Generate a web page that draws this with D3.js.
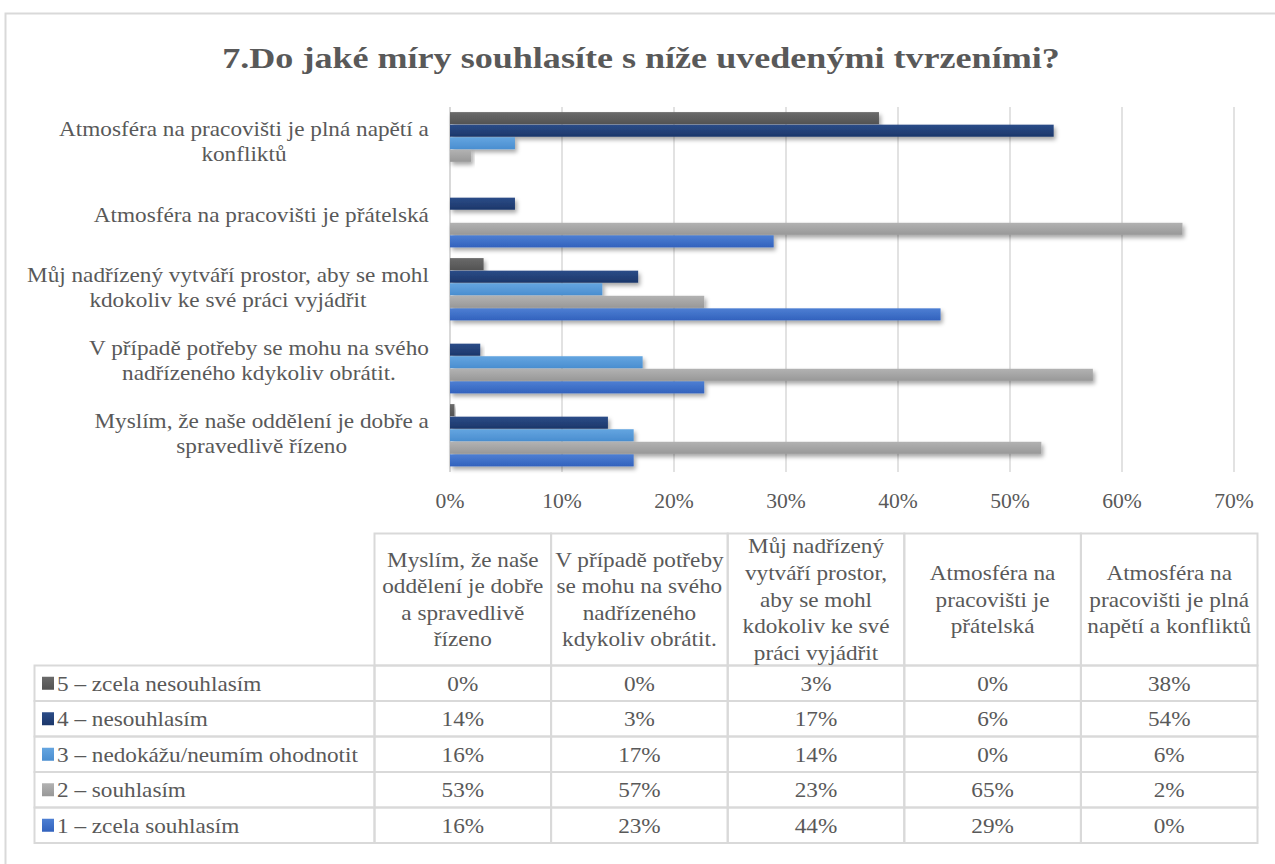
<!DOCTYPE html>
<html>
<head>
<meta charset="utf-8">
<script src="https://cdn.jsdelivr.net/npm/d3@7"></script>
<style>
  body { margin: 0; background: #fff; }
</style>
</head>
<body>
<script>
// categories in Excel order (first = bottom of the bar chart, first column of the table)
const categories = [
  "Myslím, že naše oddělení je dobře a spravedlivě řízeno",
  "V případě potřeby se mohu na svého nadřízeného kdykoliv obrátit.",
  "Můj nadřízený vytváří prostor, aby se mohl kdokoliv ke své práci vyjádřit",
  "Atmosféra na pracovišti je přátelská",
  "Atmosféra na pracovišti je plná napětí a konfliktů"
]
// wrapped forms of the same labels
const axisLabelLines = [
  ["Myslím, že naše oddělení je dobře a", "spravedlivě řízeno"],
  ["V případě potřeby se mohu na svého", "nadřízeného kdykoliv obrátit."],
  ["Můj nadřízený vytváří prostor, aby se mohl", "kdokoliv ke své práci vyjádřit"],
  ["Atmosféra na pracovišti je přátelská"],
  ["Atmosféra na pracovišti je plná napětí a", "konfliktů"]
]
const headerLines = [
  ["Myslím, že naše", "oddělení je dobře", "a spravedlivě", "řízeno"],
  ["V případě potřeby", "se mohu na svého", "nadřízeného", "kdykoliv obrátit."],
  ["Můj nadřízený", "vytváří prostor,", "aby se mohl", "kdokoliv ke své", "práci vyjádřit"],
  ["Atmosféra na", "pracovišti je", "přátelská"],
  ["Atmosféra na", "pracovišti je plná", "napětí a konfliktů"]
]

const series = [
  "5 – zcela nesouhlasím",
  "4 – nesouhlasím",
  "3 – nedokážu/neumím ohodnotit",
  "2 – souhlasím",
  "1 – zcela souhlasím"
]
// one value per category (same order as categories)
const zcelaNesouhlasim = [0.004, 0.000, 0.030, 0.000, 0.383]
const nesouhlasim      = [0.141, 0.027, 0.168, 0.058, 0.539]
const nedokazu         = [0.164, 0.172, 0.136, 0.000, 0.058]
const souhlasim        = [0.528, 0.574, 0.227, 0.654, 0.019]
const zcelaSouhlasim   = [0.164, 0.227, 0.438, 0.289, 0.000]
const values = [zcelaNesouhlasim, nesouhlasim, nedokazu, souhlasim, zcelaSouhlasim]

const xTicks = [0, 0.1, 0.2, 0.3, 0.4, 0.5, 0.6, 0.7]

const colors = [
  ["#6a6a6a", "#535353"],
  ["#2b4c88", "#1c376a"],
  ["#64a5e0", "#4a8ed0"],
  ["#b2b2b2", "#989898"],
  ["#4d7fd3", "#3262bd"]
]

const W = 1275, H = 864
const textColor = "#595959"
const lineColor = "#d9d9d9"
const font = "'Liberation Serif'"
const fs = "21.5px"
// the picture's text is a little wider than the font, stretch it sideways
const SX = 1.08

const svg = d3.select("body").append("svg")
  .attr("width", W)
  .attr("height", H)

// put a text at (x, y) stretched by sx
const place = (sel, x, y, sx) =>
  sel.attr("transform", (d, i) => {
    const xx = typeof x === "function" ? x(d, i) : x
    const yy = typeof y === "function" ? y(d, i) : y
    return `translate(${xx},${yy}) scale(${sx},1)`
  })

const defs = svg.append("defs")
colors.forEach((c, i) => {
  const g = defs.append("linearGradient")
    .attr("id", `grad${i}`)
    .attr("x1", 0).attr("y1", 0).attr("x2", 0).attr("y2", 1)
  g.append("stop").attr("offset", "0%").attr("stop-color", c[0])
  g.append("stop").attr("offset", "100%").attr("stop-color", c[1])
})
defs.append("filter")
  .attr("id", "shadow")
  .attr("x", "-5%").attr("y", "-50%").attr("width", "120%").attr("height", "250%")
  .append("feDropShadow")
    .attr("dx", 2).attr("dy", 3)
    .attr("stdDeviation", 2)
    .attr("flood-color", "#000")
    .attr("flood-opacity", 0.35)

// chart area border (runs off the right and bottom of the picture)
svg.append("rect")
  .attr("x", 5.5).attr("y", 13.5)
  .attr("width", W + 20).attr("height", H + 20)
  .attr("fill", "none")
  .attr("stroke", lineColor)
  .attr("stroke-width", 2)

const title = svg.append("text")
  .attr("text-anchor", "middle")
  .attr("fill", textColor)
  .attr("font-family", font)
  .attr("font-weight", "bold")
  .attr("font-size", "29px")
  .text("7.Do jaké míry souhlasíte s níže uvedenými tvrzeními?")
place(title, 641, 68, 838 / title.node().getComputedTextLength())

// ---- bar chart ----
const plotTop = 107, plotBottom = 472

const x = d3.scaleLinear()
  .domain([0, 0.7])
  .range([450, 1234])

const y = d3.scaleBand()
  .domain(d3.range(categories.length).reverse())
  .range([plotTop, plotBottom])
  .paddingInner(0.14)
  .paddingOuter(0.07)

const ySeries = d3.scaleBand()
  .domain(d3.range(series.length))
  .range([0, y.bandwidth()])

svg.append("g")
  .selectAll("line")
  .data(xTicks)
  .enter()
  .append("line")
    .attr("x1", d => x(d))
    .attr("x2", d => x(d))
    .attr("y1", plotTop)
    .attr("y2", plotBottom)
    .attr("stroke", lineColor)
    .attr("stroke-width", d => d === 0 ? 2 : 1.5)

place(svg.append("g")
  .selectAll("text")
  .data(xTicks)
  .enter()
  .append("text")
    .attr("text-anchor", "middle")
    .attr("fill", textColor)
    .attr("font-family", font)
    .attr("font-size", "20px")
    .text(d => d3.format(".0%")(d)), d => x(d), 508, SX)

const bars = []
categories.forEach((c, ci) => {
  series.forEach((s, si) => {
    bars.push({ ci, si, v: values[si][ci] })
  })
})

svg.append("g")
  .selectAll("rect")
  .data(bars.filter(d => d.v > 0))
  .enter()
  .append("rect")
    .attr("x", x(0))
    .attr("y", d => y(d.ci) + ySeries(d.si))
    .attr("width", d => x(d.v) - x(0))
    .attr("height", ySeries.bandwidth() - 0.5)
    .attr("fill", d => `url(#grad${d.si})`)
    .attr("filter", "url(#shadow)")

// category labels: block right aligned, lines centred inside it
const labelRight = 429
const lineH = 24.5
categories.forEach((c, ci) => {
  const lines = axisLabelLines[ci]
  const g = svg.append("g")
  const cy = y(ci) + y.bandwidth() / 2
  const texts = lines.map(l => g.append("text")
    .attr("text-anchor", "middle")
    .attr("fill", textColor)
    .attr("font-family", font)
    .attr("font-size", fs)
    .text(l))
  const maxW = d3.max(texts, t => t.node().getComputedTextLength()) * SX
  texts.forEach((t, li) => place(t, labelRight - maxW / 2,
    cy + (li - (lines.length - 1) / 2) * lineH + 5, SX))
})

// ---- data table ----
const tableLeft = 34.5, tableTop = 533.5, headerBottom = 665.5, tableBottom = 843

const col = d3.scaleBand()
  .domain(d3.range(categories.length))
  .range([374.5, 1257.5])

const row = d3.scaleBand()
  .domain(d3.range(series.length))
  .range([headerBottom, tableBottom])

const table = svg.append("g")
  .attr("stroke", lineColor)
  .attr("stroke-width", 2)
  .attr("fill", "none")

// header cells
table.selectAll("rect.head")
  .data(d3.range(categories.length))
  .enter()
  .append("rect")
    .attr("class", "head")
    .attr("x", d => col(d))
    .attr("y", tableTop)
    .attr("width", col.bandwidth())
    .attr("height", headerBottom - tableTop)

// body cells
const cells = []
series.forEach((s, si) => {
  cells.push({ si, ci: -1 })
  categories.forEach((c, ci) => cells.push({ si, ci }))
})
table.selectAll("rect.cell")
  .data(cells)
  .enter()
  .append("rect")
    .attr("class", "cell")
    .attr("x", d => d.ci < 0 ? tableLeft : col(d.ci))
    .attr("y", d => row(d.si))
    .attr("width", d => d.ci < 0 ? col(0) - tableLeft : col.bandwidth())
    .attr("height", row.bandwidth())

const headLineH = 26.6
headerLines.forEach((lines, ci) => {
  const cy = (tableTop + headerBottom) / 2
  place(svg.append("g")
    .selectAll("text")
    .data(lines)
    .enter()
    .append("text")
      .attr("text-anchor", "middle")
      .attr("fill", textColor)
      .attr("font-family", font)
      .attr("font-size", fs)
      .text(d => d),
    col(ci) + col.bandwidth() / 2,
    (d, li) => cy + (li - (lines.length - 1) / 2) * headLineH + 7, SX)
})

// legend keys + series names
svg.append("g")
  .selectAll("rect")
  .data(series)
  .enter()
  .append("rect")
    .attr("x", 42)
    .attr("y", (d, i) => row(i) + row.bandwidth() / 2 - 6.5)
    .attr("width", 12)
    .attr("height", 13)
    .attr("fill", (d, i) => `url(#grad${i})`)

place(svg.append("g")
  .selectAll("text")
  .data(series)
  .enter()
  .append("text")
    .attr("fill", textColor)
    .attr("font-family", font)
    .attr("font-size", fs)
    .text(d => d), 57, (d, i) => row(i) + row.bandwidth() / 2 + 7.5, SX)

place(svg.append("g")
  .selectAll("text")
  .data(cells.filter(d => d.ci >= 0))
  .enter()
  .append("text")
    .attr("text-anchor", "middle")
    .attr("fill", textColor)
    .attr("font-family", font)
    .attr("font-size", fs)
    .text(d => d3.format(".0%")(values[d.si][d.ci])),
  d => col(d.ci) + col.bandwidth() / 2,
  d => row(d.si) + row.bandwidth() / 2 + 7.5, SX)
</script>
</body>
</html>
